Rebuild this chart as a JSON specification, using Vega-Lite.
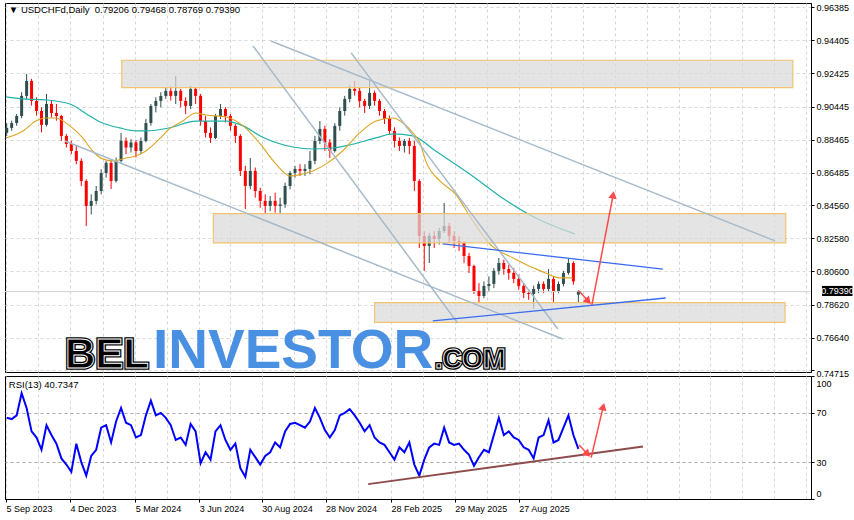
{
  "$schema": "https://vega.github.io/schema/vega-lite/v6.json",
  "padding": {"left": 2, "top": 2, "right": 0, "bottom": 0},
  "background": "white",
  "spacing": 4,
  "bounds": "flush",
  "config": {
    "font": "Liberation Sans",
    "view": {"stroke": "#000000", "strokeWidth": 1},
    "axis": {"labelFont": "Liberation Sans", "labelFontSize": 9, "labelColor": "#000000", "domainColor": "#000000", "tickColor": "#000000", "labelOverlap": false}
  },
  "datasets": {
    "c": [
      {"date":"2023-09-06","open":0.8887,"high":0.8946,"low":0.8869,"close":0.8917,"rsi":66},
      {"date":"2023-09-13","open":0.8917,"high":0.8960,"low":0.8900,"close":0.8946,"rsi":65},
      {"date":"2023-09-20","open":0.8946,"high":0.9000,"low":0.8930,"close":0.8988,"rsi":68},
      {"date":"2023-09-27","open":0.8988,"high":0.9130,"low":0.8975,"close":0.9108,"rsi":86},
      {"date":"2023-10-04","open":0.9108,"high":0.9239,"low":0.9090,"close":0.9197,"rsi":74},
      {"date":"2023-10-11","open":0.9197,"high":0.9210,"low":0.9050,"close":0.9078,"rsi":55},
      {"date":"2023-10-18","open":0.9078,"high":0.9100,"low":0.8990,"close":0.9018,"rsi":50},
      {"date":"2023-10-25","open":0.9018,"high":0.9040,"low":0.8890,"close":0.8935,"rsi":40},
      {"date":"2023-11-01","open":0.8935,"high":0.9120,"low":0.8925,"close":0.9060,"rsi":60},
      {"date":"2023-11-08","open":0.9060,"high":0.9080,"low":0.8980,"close":0.9006,"rsi":52},
      {"date":"2023-11-15","open":0.9006,"high":0.9060,"low":0.8960,"close":0.8988,"rsi":45},
      {"date":"2023-11-22","open":0.8988,"high":0.8995,"low":0.8840,"close":0.8869,"rsi":33},
      {"date":"2023-11-29","open":0.8869,"high":0.8880,"low":0.8800,"close":0.8821,"rsi":28},
      {"date":"2023-12-06","open":0.8821,"high":0.8840,"low":0.8760,"close":0.8779,"rsi":22},
      {"date":"2023-12-13","open":0.8779,"high":0.8809,"low":0.8700,"close":0.8720,"rsi":45},
      {"date":"2023-12-20","open":0.8720,"high":0.8735,"low":0.8570,"close":0.8600,"rsi":30},
      {"date":"2023-12-27","open":0.8600,"high":0.8610,"low":0.8331,"close":0.8451,"rsi":19},
      {"date":"2024-01-03","open":0.8451,"high":0.8520,"low":0.8400,"close":0.8481,"rsi":35},
      {"date":"2024-01-10","open":0.8481,"high":0.8570,"low":0.8460,"close":0.8540,"rsi":40},
      {"date":"2024-01-17","open":0.8540,"high":0.8670,"low":0.8520,"close":0.8648,"rsi":58},
      {"date":"2024-01-24","open":0.8648,"high":0.8720,"low":0.8620,"close":0.8708,"rsi":60},
      {"date":"2024-01-31","open":0.8708,"high":0.8720,"low":0.8552,"close":0.8600,"rsi":46},
      {"date":"2024-02-07","open":0.8600,"high":0.8740,"low":0.8590,"close":0.8720,"rsi":63},
      {"date":"2024-02-14","open":0.8720,"high":0.8887,"low":0.8710,"close":0.8840,"rsi":74},
      {"date":"2024-02-21","open":0.8840,"high":0.8860,"low":0.8760,"close":0.8800,"rsi":62},
      {"date":"2024-02-28","open":0.8800,"high":0.8850,"low":0.8770,"close":0.8830,"rsi":60},
      {"date":"2024-03-06","open":0.8830,"high":0.8845,"low":0.8740,"close":0.8779,"rsi":50},
      {"date":"2024-03-13","open":0.8779,"high":0.8860,"low":0.8760,"close":0.8839,"rsi":52},
      {"date":"2024-03-20","open":0.8839,"high":0.8970,"low":0.8830,"close":0.8946,"rsi":68},
      {"date":"2024-03-27","open":0.8946,"high":0.9060,"low":0.8930,"close":0.9048,"rsi":80},
      {"date":"2024-04-03","open":0.9048,"high":0.9100,"low":0.9010,"close":0.9078,"rsi":68},
      {"date":"2024-04-10","open":0.9078,"high":0.9130,"low":0.9040,"close":0.9108,"rsi":70},
      {"date":"2024-04-17","open":0.9108,"high":0.9160,"low":0.9090,"close":0.9138,"rsi":66},
      {"date":"2024-04-24","open":0.9138,"high":0.9165,"low":0.9080,"close":0.9108,"rsi":60},
      {"date":"2024-05-01","open":0.9108,"high":0.9227,"low":0.9060,"close":0.9138,"rsi":48},
      {"date":"2024-05-08","open":0.9138,"high":0.9150,"low":0.9040,"close":0.9078,"rsi":50},
      {"date":"2024-05-15","open":0.9078,"high":0.9100,"low":0.9000,"close":0.9048,"rsi":44},
      {"date":"2024-05-22","open":0.9048,"high":0.9168,"low":0.9030,"close":0.9150,"rsi":61},
      {"date":"2024-05-29","open":0.9150,"high":0.9160,"low":0.9060,"close":0.9108,"rsi":55},
      {"date":"2024-06-05","open":0.9108,"high":0.9120,"low":0.8930,"close":0.8958,"rsi":29},
      {"date":"2024-06-12","open":0.8958,"high":0.8990,"low":0.8860,"close":0.8887,"rsi":38},
      {"date":"2024-06-19","open":0.8887,"high":0.8920,"low":0.8827,"close":0.8857,"rsi":32},
      {"date":"2024-06-26","open":0.8857,"high":0.9000,"low":0.8850,"close":0.8988,"rsi":55},
      {"date":"2024-07-03","open":0.8988,"high":0.9060,"low":0.8970,"close":0.9030,"rsi":60},
      {"date":"2024-07-10","open":0.9030,"high":0.9040,"low":0.8950,"close":0.8988,"rsi":48},
      {"date":"2024-07-17","open":0.8988,"high":0.9000,"low":0.8900,"close":0.8929,"rsi":40},
      {"date":"2024-07-24","open":0.8929,"high":0.8940,"low":0.8827,"close":0.8869,"rsi":45},
      {"date":"2024-07-31","open":0.8869,"high":0.8880,"low":0.8630,"close":0.8660,"rsi":25},
      {"date":"2024-08-07","open":0.8660,"high":0.8690,"low":0.8433,"close":0.8570,"rsi":18},
      {"date":"2024-08-14","open":0.8570,"high":0.8737,"low":0.8550,"close":0.8660,"rsi":40},
      {"date":"2024-08-21","open":0.8660,"high":0.8680,"low":0.8500,"close":0.8540,"rsi":34},
      {"date":"2024-08-28","open":0.8540,"high":0.8560,"low":0.8440,"close":0.8481,"rsi":28},
      {"date":"2024-09-04","open":0.8481,"high":0.8520,"low":0.8403,"close":0.8451,"rsi":35},
      {"date":"2024-09-11","open":0.8451,"high":0.8510,"low":0.8420,"close":0.8481,"rsi":38},
      {"date":"2024-09-18","open":0.8481,"high":0.8530,"low":0.8410,"close":0.8451,"rsi":46},
      {"date":"2024-09-25","open":0.8451,"high":0.8500,"low":0.8403,"close":0.8460,"rsi":42},
      {"date":"2024-10-02","open":0.8460,"high":0.8590,"low":0.8440,"close":0.8570,"rsi":55},
      {"date":"2024-10-09","open":0.8570,"high":0.8660,"low":0.8550,"close":0.8648,"rsi":61},
      {"date":"2024-10-16","open":0.8648,"high":0.8690,"low":0.8620,"close":0.8672,"rsi":62},
      {"date":"2024-10-23","open":0.8672,"high":0.8700,"low":0.8630,"close":0.8660,"rsi":60},
      {"date":"2024-10-30","open":0.8660,"high":0.8700,"low":0.8630,"close":0.8672,"rsi":58},
      {"date":"2024-11-06","open":0.8672,"high":0.8779,"low":0.8640,"close":0.8720,"rsi":63},
      {"date":"2024-11-13","open":0.8720,"high":0.8869,"low":0.8700,"close":0.8839,"rsi":74},
      {"date":"2024-11-20","open":0.8839,"high":0.8958,"low":0.8820,"close":0.8911,"rsi":66},
      {"date":"2024-11-27","open":0.8911,"high":0.8930,"low":0.8780,"close":0.8830,"rsi":56},
      {"date":"2024-12-04","open":0.8830,"high":0.8850,"low":0.8737,"close":0.8779,"rsi":50},
      {"date":"2024-12-11","open":0.8779,"high":0.8945,"low":0.8770,"close":0.8929,"rsi":56},
      {"date":"2024-12-18","open":0.8929,"high":0.9040,"low":0.8900,"close":0.9018,"rsi":68},
      {"date":"2024-12-25","open":0.9018,"high":0.9108,"low":0.8990,"close":0.9090,"rsi":70},
      {"date":"2025-01-01","open":0.9090,"high":0.9170,"low":0.9070,"close":0.9150,"rsi":73},
      {"date":"2025-01-08","open":0.9150,"high":0.9197,"low":0.9110,"close":0.9138,"rsi":68},
      {"date":"2025-01-15","open":0.9138,"high":0.9160,"low":0.9040,"close":0.9078,"rsi":62},
      {"date":"2025-01-22","open":0.9078,"high":0.9090,"low":0.9006,"close":0.9048,"rsi":55},
      {"date":"2025-01-29","open":0.9048,"high":0.9197,"low":0.9030,"close":0.9126,"rsi":60},
      {"date":"2025-02-05","open":0.9126,"high":0.9140,"low":0.9050,"close":0.9078,"rsi":50},
      {"date":"2025-02-12","open":0.9078,"high":0.9090,"low":0.8990,"close":0.9018,"rsi":46},
      {"date":"2025-02-19","open":0.9018,"high":0.9030,"low":0.8940,"close":0.8970,"rsi":44},
      {"date":"2025-02-26","open":0.8970,"high":0.8990,"low":0.8880,"close":0.8899,"rsi":38},
      {"date":"2025-03-05","open":0.8899,"high":0.8920,"low":0.8800,"close":0.8839,"rsi":32},
      {"date":"2025-03-12","open":0.8839,"high":0.8860,"low":0.8779,"close":0.8809,"rsi":42},
      {"date":"2025-03-19","open":0.8809,"high":0.8850,"low":0.8770,"close":0.8839,"rsi":38},
      {"date":"2025-03-26","open":0.8839,"high":0.8857,"low":0.8760,"close":0.8809,"rsi":46},
      {"date":"2025-04-02","open":0.8809,"high":0.8840,"low":0.8540,"close":0.8600,"rsi":28},
      {"date":"2025-04-09","open":0.8600,"high":0.8610,"low":0.8200,"close":0.8272,"rsi":19},
      {"date":"2025-04-16","open":0.8272,"high":0.8300,"low":0.8063,"close":0.8212,"rsi":32},
      {"date":"2025-04-23","open":0.8212,"high":0.8290,"low":0.8110,"close":0.8272,"rsi":42},
      {"date":"2025-04-30","open":0.8272,"high":0.8300,"low":0.8200,"close":0.8254,"rsi":45},
      {"date":"2025-05-07","open":0.8254,"high":0.8320,"low":0.8220,"close":0.8301,"rsi":44},
      {"date":"2025-05-14","open":0.8301,"high":0.8469,"low":0.8290,"close":0.8331,"rsi":58},
      {"date":"2025-05-21","open":0.8331,"high":0.8350,"low":0.8230,"close":0.8272,"rsi":46},
      {"date":"2025-05-28","open":0.8272,"high":0.8300,"low":0.8200,"close":0.8242,"rsi":44},
      {"date":"2025-06-04","open":0.8242,"high":0.8270,"low":0.8182,"close":0.8230,"rsi":45},
      {"date":"2025-06-11","open":0.8230,"high":0.8240,"low":0.8110,"close":0.8152,"rsi":40},
      {"date":"2025-06-18","open":0.8152,"high":0.8170,"low":0.8050,"close":0.8092,"rsi":36},
      {"date":"2025-06-25","open":0.8092,"high":0.8100,"low":0.7925,"close":0.7943,"rsi":27},
      {"date":"2025-07-02","open":0.7943,"high":0.7990,"low":0.7871,"close":0.7913,"rsi":34},
      {"date":"2025-07-09","open":0.7913,"high":0.8000,"low":0.7900,"close":0.7973,"rsi":40},
      {"date":"2025-07-16","open":0.7973,"high":0.8030,"low":0.7940,"close":0.7985,"rsi":38},
      {"date":"2025-07-23","open":0.7985,"high":0.8080,"low":0.7960,"close":0.8063,"rsi":52},
      {"date":"2025-07-30","open":0.8063,"high":0.8140,"low":0.8040,"close":0.8110,"rsi":66},
      {"date":"2025-08-06","open":0.8110,"high":0.8130,"low":0.8040,"close":0.8074,"rsi":52},
      {"date":"2025-08-13","open":0.8074,"high":0.8100,"low":0.8010,"close":0.8051,"rsi":55},
      {"date":"2025-08-20","open":0.8051,"high":0.8080,"low":0.7990,"close":0.8015,"rsi":50},
      {"date":"2025-08-27","open":0.8015,"high":0.8040,"low":0.7950,"close":0.7973,"rsi":48},
      {"date":"2025-09-03","open":0.7973,"high":0.7990,"low":0.7900,"close":0.7931,"rsi":42},
      {"date":"2025-09-10","open":0.7931,"high":0.7950,"low":0.7890,"close":0.7925,"rsi":40},
      {"date":"2025-09-17","open":0.7925,"high":0.7975,"low":0.7836,"close":0.7955,"rsi":33},
      {"date":"2025-09-24","open":0.7955,"high":0.8000,"low":0.7930,"close":0.7985,"rsi":50},
      {"date":"2025-10-01","open":0.7985,"high":0.8000,"low":0.7930,"close":0.7955,"rsi":52},
      {"date":"2025-10-08","open":0.7955,"high":0.8074,"low":0.7940,"close":0.8015,"rsi":64},
      {"date":"2025-10-15","open":0.8015,"high":0.8030,"low":0.7870,"close":0.7943,"rsi":46},
      {"date":"2025-10-22","open":0.7943,"high":0.8000,"low":0.7930,"close":0.7985,"rsi":48},
      {"date":"2025-10-29","open":0.7985,"high":0.8063,"low":0.7970,"close":0.8051,"rsi":58},
      {"date":"2025-11-05","open":0.8051,"high":0.8134,"low":0.8040,"close":0.8110,"rsi":68},
      {"date":"2025-11-12","open":0.8110,"high":0.8120,"low":0.7980,"close":0.8000,"rsi":52},
      {"date":"2025-11-19","open":0.7921,"high":0.7947,"low":0.7877,"close":0.7939,"rsi":40.73}
    ],
    "ma1": [
      {"date":"2023-09-05","price":0.9102},{"date":"2023-09-29","price":0.9090},{"date":"2023-10-31","price":0.9084},
      {"date":"2023-12-04","price":0.9060},{"date":"2024-01-01","price":0.8988},{"date":"2024-01-19","price":0.8946},
      {"date":"2024-02-12","price":0.8917},{"date":"2024-03-06","price":0.8899},{"date":"2024-03-20","price":0.8899},
      {"date":"2024-04-22","price":0.8917},{"date":"2024-05-29","price":0.8958},{"date":"2024-07-11","price":0.8958},
      {"date":"2024-08-04","price":0.8929},{"date":"2024-08-28","price":0.8869},{"date":"2024-10-13","price":0.8803},
      {"date":"2024-11-10","price":0.8791},{"date":"2024-12-08","price":0.8797},{"date":"2025-01-01","price":0.8815},
      {"date":"2025-02-07","price":0.8857},{"date":"2025-03-03","price":0.8881},{"date":"2025-03-31","price":0.8869},
      {"date":"2025-05-02","price":0.8779},{"date":"2025-06-19","price":0.8642},{"date":"2025-08-04","price":0.8498},
      {"date":"2025-09-20","price":0.8379},{"date":"2025-11-14","price":0.8284}
    ],
    "ma2": [
      {"date":"2023-09-05","price":0.8857},{"date":"2023-09-29","price":0.8899},{"date":"2023-10-17","price":0.8958},
      {"date":"2023-10-31","price":0.8976},{"date":"2023-11-14","price":0.8976},{"date":"2023-12-04","price":0.8929},
      {"date":"2023-12-22","price":0.8857},{"date":"2024-01-05","price":0.8779},{"date":"2024-01-19","price":0.8732},
      {"date":"2024-02-02","price":0.8720},{"date":"2024-02-21","price":0.8737},{"date":"2024-03-06","price":0.8749},
      {"date":"2024-03-20","price":0.8779},{"date":"2024-04-08","price":0.8851},{"date":"2024-04-22","price":0.8911},
      {"date":"2024-05-11","price":0.8958},{"date":"2024-05-29","price":0.9006},{"date":"2024-06-12","price":0.8994},
      {"date":"2024-07-11","price":0.8982},{"date":"2024-08-04","price":0.8929},{"date":"2024-08-28","price":0.8821},
      {"date":"2024-09-19","price":0.8702},{"date":"2024-10-09","price":0.8630},{"date":"2024-10-27","price":0.8642},
      {"date":"2024-11-10","price":0.8660},{"date":"2024-11-29","price":0.8702},{"date":"2024-12-22","price":0.8779},
      {"date":"2025-01-15","price":0.8887},{"date":"2025-02-07","price":0.8958},{"date":"2025-03-03","price":0.8976},
      {"date":"2025-03-17","price":0.8946},{"date":"2025-03-31","price":0.8887},{"date":"2025-04-10","price":0.8827},
      {"date":"2025-04-18","price":0.8720},{"date":"2025-05-08","price":0.8600},{"date":"2025-05-30","price":0.8522},
      {"date":"2025-06-19","price":0.8391},{"date":"2025-07-17","price":0.8224},{"date":"2025-08-19","price":0.8140},
      {"date":"2025-09-30","price":0.8057},{"date":"2025-10-24","price":0.8021},{"date":"2025-11-11","price":0.8021}
    ],
    "boxes": [
      {"date":"2024-02-15","date2":"2026-09-17","price":0.9157,"price2":0.9321},
      {"date":"2024-06-23","date2":"2026-09-07","price":0.8230,"price2":0.8405},
      {"date":"2025-02-05","date2":"2026-09-06","price":0.7755,"price2":0.7873}
    ],
    "glines": [
      {"date":"2024-09-12","date2":"2026-08-23","price":0.9436,"price2":0.8242},
      {"date":"2025-01-03","date2":"2025-10-21","price":0.9365,"price2":0.7716},
      {"date":"2024-08-18","date2":"2025-06-02","price":0.9406,"price2":0.7752},
      {"date":"2023-11-27","date2":"2025-10-28","price":0.8839,"price2":0.7656}
    ],
    "blines": [
      {"date":"2025-05-12","date2":"2026-03-18","price":0.8224,"price2":0.8074},
      {"date":"2025-04-28","date2":"2026-03-22","price":0.7764,"price2":0.7901}
    ],
    "parr": [
      {"date":"2025-11-20","date2":"2025-12-03","price":0.7943,"price2":0.7882},
      {"date":"2025-12-08","date2":"2026-01-07","price":0.7859,"price2":0.8517}
    ],
    "pheads": [
      {"date":"2025-12-03","price":0.7882,"angle":137},
      {"date":"2026-01-07","price":0.8517,"angle":10}
    ],
    "last": [{"price":0.7939}],
    "tag": [{"date":"2026-10-28","date2":"2026-12-10","mid":"2026-11-19","top":0.7973,"bottom":0.7913,"price":0.7943,"label":"0.79390"}],
    "hdr": [{"date":"2023-09-09","price":0.9604,"text":"▼ USDCHFd,Daily\u00a0\u00a00.79206 0.79468 0.78769 0.79390"}],
    "rhdr": [{"date":"2023-09-09","rsi":90.2,"text":"RSI(13) 40.7347"}],
    "logo": [
      {"date":"2023-11-27","price":0.7483,"text":"BEL"},
      {"date":"2024-03-30","price":0.7483,"text":"INVESTOR"},
      {"date":"2025-05-01","price":0.7483,"text":".COM"}
    ],
    "rline": [{"date":"2025-01-27","date2":"2026-02-18","rsi":12.1,"rsi2":42.7}],
    "rarr": [
      {"date":"2025-11-20","date2":"2025-12-02","rsi":43.9,"rsi2":36.5},
      {"date":"2025-12-07","date2":"2025-12-24","rsi":33.6,"rsi2":75.1}
    ],
    "rheads": [
      {"date":"2025-12-02","rsi":36.5,"angle":135},
      {"date":"2025-12-24","rsi":75.1,"angle":14}
    ]
  },
  "vconcat": [
    {
      "width": 806,
      "height": 369,
      "layer": [
        {
          "data": {"name": "c"},
          "mark": {"type": "rule", "strokeWidth": 1},
          "encoding": {
            "x": {"field": "date", "type": "temporal", "title": null,
              "scale": {"type": "utc", "domain": [{"year": 2023, "month": 9, "date": 3, "hours": 14, "utc": true}, {"year": 2026, "month": 10, "date": 12, "hours": 14, "utc": true}]},
              "axis": {"title": null, "labels": false, "ticks": false, "domain": false, "grid": true, "gridColor": "#d6d6d6", "gridDash": [3, 3], "tickCount": 60,
                "values": [
                  {"year":2023,"month":9,"date":5,"utc":true},{"year":2023,"month":10,"date":20,"utc":true},{"year":2023,"month":12,"date":4,"utc":true},
                  {"year":2024,"month":1,"date":19,"utc":true},{"year":2024,"month":3,"date":5,"utc":true},{"year":2024,"month":4,"date":19,"utc":true},
                  {"year":2024,"month":6,"date":3,"utc":true},{"year":2024,"month":7,"date":17,"utc":true},{"year":2024,"month":8,"date":30,"utc":true},
                  {"year":2024,"month":10,"date":14,"utc":true},{"year":2024,"month":11,"date":28,"utc":true},{"year":2025,"month":1,"date":13,"utc":true},
                  {"year":2025,"month":2,"date":28,"utc":true},{"year":2025,"month":4,"date":14,"utc":true},{"year":2025,"month":5,"date":29,"utc":true},
                  {"year":2025,"month":7,"date":13,"utc":true},{"year":2025,"month":8,"date":27,"utc":true},{"year":2025,"month":10,"date":11,"utc":true},
                  {"year":2025,"month":11,"date":25,"utc":true},{"year":2026,"month":1,"date":9,"utc":true},{"year":2026,"month":2,"date":23,"utc":true},
                  {"year":2026,"month":4,"date":9,"utc":true},{"year":2026,"month":5,"date":24,"utc":true},{"year":2026,"month":7,"date":8,"utc":true},
                  {"year":2026,"month":8,"date":22,"utc":true},{"year":2026,"month":10,"date":6,"utc":true}
                ]}},
            "y": {"field": "low", "type": "quantitative", "title": null, "scale": {"domain": [0.7459, 0.9663], "zero": false, "nice": false},
              "axis": {"orient": "right", "title": null, "tickCount": 40, "values": [0.96385, 0.94405, 0.92425, 0.90445, 0.88465, 0.86485, 0.84560, 0.82580, 0.80600, 0.78620, 0.76640, 0.74715], "format": ".5f", "grid": true, "gridColor": "#d6d6d6", "gridDash": [3, 3], "tickSize": 3, "labelPadding": 2, "labelOverlap": false, "labelBound": false, "labelFlush": false, "labelOffset": {"condition": {"test": "datum.value < 0.75", "value": 4}, "value": 0}}},
            "y2": {"field": "high"},
            "color": {"condition": {"test": "datum.close >= datum.open", "value": "#2f4f4f"}, "value": "#ff0000"}
          }
        },
        {
          "data": {"name": "last"},
          "mark": {"type": "rule", "color": "#cfcfcf", "strokeWidth": 1},
          "encoding": {
            "y": {"field": "price", "type": "quantitative", "title": null, "scale": {"domain": [0.7459, 0.9663], "zero": false, "nice": false}}
          }
        },
        {
          "data": {"name": "c"},
          "mark": {"type": "rule", "strokeWidth": 3},
          "encoding": {
            "x": {"field": "date", "type": "temporal", "title": null, "scale": {"type": "utc", "domain": [{"year": 2023, "month": 9, "date": 3, "hours": 14, "utc": true}, {"year": 2026, "month": 10, "date": 12, "hours": 14, "utc": true}]}},
            "y": {"field": "open", "type": "quantitative", "title": null, "scale": {"domain": [0.7459, 0.9663], "zero": false, "nice": false}},
            "y2": {"field": "close"},
            "color": {"condition": {"test": "datum.close >= datum.open", "value": "#2f4f4f"}, "value": "#ff0000"}
          }
        },
        {
          "data": {"name": "ma1"},
          "mark": {"type": "line", "color": "#20b2aa", "strokeWidth": 1.2, "interpolate": "monotone"},
          "encoding": {
            "x": {"field": "date", "type": "temporal", "title": null, "scale": {"type": "utc", "domain": [{"year": 2023, "month": 9, "date": 3, "hours": 14, "utc": true}, {"year": 2026, "month": 10, "date": 12, "hours": 14, "utc": true}]}},
            "y": {"field": "price", "type": "quantitative", "title": null, "scale": {"domain": [0.7459, 0.9663], "zero": false, "nice": false}}
          }
        },
        {
          "data": {"name": "ma2"},
          "mark": {"type": "line", "color": "#daa520", "strokeWidth": 1.1, "interpolate": "monotone"},
          "encoding": {
            "x": {"field": "date", "type": "temporal", "title": null, "scale": {"type": "utc", "domain": [{"year": 2023, "month": 9, "date": 3, "hours": 14, "utc": true}, {"year": 2026, "month": 10, "date": 12, "hours": 14, "utc": true}]}},
            "y": {"field": "price", "type": "quantitative", "title": null, "scale": {"domain": [0.7459, 0.9663], "zero": false, "nice": false}}
          }
        },
        {
          "data": {"name": "boxes"},
          "mark": {"type": "rect", "fill": "#d9d9d9", "fillOpacity": 0.72, "stroke": "#f2c46d", "strokeWidth": 1.2},
          "encoding": {
            "x": {"field": "date", "type": "temporal", "title": null, "scale": {"type": "utc", "domain": [{"year": 2023, "month": 9, "date": 3, "hours": 14, "utc": true}, {"year": 2026, "month": 10, "date": 12, "hours": 14, "utc": true}]}},
            "x2": {"field": "date2"},
            "y": {"field": "price", "type": "quantitative", "title": null, "scale": {"domain": [0.7459, 0.9663], "zero": false, "nice": false}},
            "y2": {"field": "price2"}
          }
        },
        {
          "data": {"name": "glines"},
          "mark": {"type": "rule", "color": "#a7bac9", "strokeWidth": 1.5},
          "encoding": {
            "x": {"field": "date", "type": "temporal", "title": null, "scale": {"type": "utc", "domain": [{"year": 2023, "month": 9, "date": 3, "hours": 14, "utc": true}, {"year": 2026, "month": 10, "date": 12, "hours": 14, "utc": true}]}},
            "x2": {"field": "date2"},
            "y": {"field": "price", "type": "quantitative", "title": null, "scale": {"domain": [0.7459, 0.9663], "zero": false, "nice": false}},
            "y2": {"field": "price2"}
          }
        },
        {
          "data": {"name": "blines"},
          "mark": {"type": "rule", "color": "#3b6cf0", "strokeWidth": 1.3},
          "encoding": {
            "x": {"field": "date", "type": "temporal", "title": null, "scale": {"type": "utc", "domain": [{"year": 2023, "month": 9, "date": 3, "hours": 14, "utc": true}, {"year": 2026, "month": 10, "date": 12, "hours": 14, "utc": true}]}},
            "x2": {"field": "date2"},
            "y": {"field": "price", "type": "quantitative", "title": null, "scale": {"domain": [0.7459, 0.9663], "zero": false, "nice": false}},
            "y2": {"field": "price2"}
          }
        },
        {
          "data": {"name": "parr"},
          "mark": {"type": "rule", "color": "#ff4a4a", "strokeWidth": 1.5},
          "encoding": {
            "x": {"field": "date", "type": "temporal", "title": null, "scale": {"type": "utc", "domain": [{"year": 2023, "month": 9, "date": 3, "hours": 14, "utc": true}, {"year": 2026, "month": 10, "date": 12, "hours": 14, "utc": true}]}},
            "x2": {"field": "date2"},
            "y": {"field": "price", "type": "quantitative", "title": null, "scale": {"domain": [0.7459, 0.9663], "zero": false, "nice": false}},
            "y2": {"field": "price2"}
          }
        },
        {
          "data": {"name": "pheads"},
          "mark": {"type": "point", "shape": "triangle-up", "filled": true, "color": "#ff4a4a", "size": 75, "opacity": 1},
          "encoding": {
            "x": {"field": "date", "type": "temporal", "title": null, "scale": {"type": "utc", "domain": [{"year": 2023, "month": 9, "date": 3, "hours": 14, "utc": true}, {"year": 2026, "month": 10, "date": 12, "hours": 14, "utc": true}]}},
            "y": {"field": "price", "type": "quantitative", "title": null, "scale": {"domain": [0.7459, 0.9663], "zero": false, "nice": false}},
            "angle": {"field": "angle", "type": "quantitative", "scale": null}
          }
        },
        {
          "data": {"name": "logo"},
          "transform": [{"filter": "datum.text == 'BEL' || datum.text == '.COM'"}],
          "mark": {"type": "text", "font": "Liberation Sans", "fontWeight": "bold", "align": "left", "baseline": "alphabetic", "fill": "#000000", "stroke": "#000000", "strokeWidth": 3.5},
          "encoding": {
            "x": {"field": "date", "type": "temporal", "title": null, "scale": {"type": "utc", "domain": [{"year": 2023, "month": 9, "date": 3, "hours": 14, "utc": true}, {"year": 2026, "month": 10, "date": 12, "hours": 14, "utc": true}]}},
            "y": {"field": "price", "type": "quantitative", "title": null, "scale": {"domain": [0.7459, 0.9663], "zero": false, "nice": false}},
            "text": {"field": "text"},
            "size": {"condition": {"test": "datum.text == '.COM'", "value": 27}, "value": 42}
          }
        },
        {
          "data": {"name": "logo"},
          "transform": [{"filter": "datum.text == 'BEL' || datum.text == '.COM'"}],
          "mark": {"type": "text", "font": "Liberation Sans", "fontWeight": "bold", "align": "left", "baseline": "alphabetic", "fill": "#000000", "stroke": "#ffffff", "strokeWidth": 0.9},
          "encoding": {
            "x": {"field": "date", "type": "temporal", "title": null, "scale": {"type": "utc", "domain": [{"year": 2023, "month": 9, "date": 3, "hours": 14, "utc": true}, {"year": 2026, "month": 10, "date": 12, "hours": 14, "utc": true}]}},
            "y": {"field": "price", "type": "quantitative", "title": null, "scale": {"domain": [0.7459, 0.9663], "zero": false, "nice": false}},
            "text": {"field": "text"},
            "size": {"condition": {"test": "datum.text == '.COM'", "value": 27}, "value": 42}
          }
        },
        {
          "data": {"name": "logo"},
          "transform": [{"filter": "datum.text == 'INVESTOR'"}],
          "mark": {"type": "text", "font": "Liberation Sans", "fontWeight": "bold", "align": "left", "baseline": "alphabetic", "fill": "#4a90e2", "fontSize": 55},
          "encoding": {
            "x": {"field": "date", "type": "temporal", "title": null, "scale": {"type": "utc", "domain": [{"year": 2023, "month": 9, "date": 3, "hours": 14, "utc": true}, {"year": 2026, "month": 10, "date": 12, "hours": 14, "utc": true}]}},
            "y": {"field": "price", "type": "quantitative", "title": null, "scale": {"domain": [0.7459, 0.9663], "zero": false, "nice": false}},
            "text": {"field": "text"}
          }
        },
        {
          "data": {"name": "hdr"},
          "mark": {"type": "text", "font": "Liberation Sans", "fontSize": 9.5, "align": "left", "baseline": "alphabetic", "color": "#000000"},
          "encoding": {
            "x": {"field": "date", "type": "temporal", "title": null, "scale": {"type": "utc", "domain": [{"year": 2023, "month": 9, "date": 3, "hours": 14, "utc": true}, {"year": 2026, "month": 10, "date": 12, "hours": 14, "utc": true}]}},
            "y": {"field": "price", "type": "quantitative", "title": null, "scale": {"domain": [0.7459, 0.9663], "zero": false, "nice": false}},
            "text": {"field": "text"}
          }
        },
        {
          "data": {"name": "tag"},
          "mark": {"type": "rect", "fill": "#000000"},
          "encoding": {
            "x": {"field": "date", "type": "temporal", "title": null, "scale": {"type": "utc", "domain": [{"year": 2023, "month": 9, "date": 3, "hours": 14, "utc": true}, {"year": 2026, "month": 10, "date": 12, "hours": 14, "utc": true}]}},
            "x2": {"field": "date2"},
            "y": {"field": "top", "type": "quantitative", "title": null, "scale": {"domain": [0.7459, 0.9663], "zero": false, "nice": false}},
            "y2": {"field": "bottom"}
          }
        },
        {
          "data": {"name": "tag"},
          "mark": {"type": "text", "color": "#ffffff", "fontSize": 9, "font": "Liberation Sans", "align": "center", "baseline": "middle"},
          "encoding": {
            "x": {"field": "mid", "type": "temporal", "title": null, "scale": {"type": "utc", "domain": [{"year": 2023, "month": 9, "date": 3, "hours": 14, "utc": true}, {"year": 2026, "month": 10, "date": 12, "hours": 14, "utc": true}]}},
            "y": {"field": "price", "type": "quantitative", "title": null, "scale": {"domain": [0.7459, 0.9663], "zero": false, "nice": false}},
            "text": {"field": "label"}
          }
        }
      ]
    },
    {
      "width": 806,
      "height": 123,
      "layer": [
        {
          "data": {"name": "c"},
          "mark": {"type": "line", "color": "#0000ff", "strokeWidth": 2},
          "encoding": {
            "x": {"field": "date", "type": "temporal", "title": null,
              "scale": {"type": "utc", "domain": [{"year": 2023, "month": 9, "date": 3, "hours": 14, "utc": true}, {"year": 2026, "month": 10, "date": 12, "hours": 14, "utc": true}]},
              "axis": {"title": null, "orient": "bottom", "domain": true, "grid": true, "gridColor": "#d6d6d6", "gridDash": [3, 3], "tickSize": 3, "tickCount": 60, "labelAlign": "left", "labelPadding": 2, "labelOverlap": false, "labelBound": false, "labelFlush": false,
                "tickOpacity": {"condition": {"test": "indexof(['2023-09-05','2023-12-04','2024-03-05','2024-06-03','2024-08-30','2024-11-28','2025-02-28','2025-05-29','2025-08-27'], utcFormat(datum.value, '%Y-%m-%d')) >= 0", "value": 1}, "value": 0},
                "labelExpr": "indexof(['2023-09-05','2023-12-04','2024-03-05','2024-06-03','2024-08-30','2024-11-28','2025-02-28','2025-05-29','2025-08-27'], utcFormat(datum.value, '%Y-%m-%d')) >= 0 ? utcFormat(datum.value, '%-d %b %Y') : ''",
                "values": [
                  {"year":2023,"month":9,"date":5,"utc":true},{"year":2023,"month":10,"date":20,"utc":true},{"year":2023,"month":12,"date":4,"utc":true},
                  {"year":2024,"month":1,"date":19,"utc":true},{"year":2024,"month":3,"date":5,"utc":true},{"year":2024,"month":4,"date":19,"utc":true},
                  {"year":2024,"month":6,"date":3,"utc":true},{"year":2024,"month":7,"date":17,"utc":true},{"year":2024,"month":8,"date":30,"utc":true},
                  {"year":2024,"month":10,"date":14,"utc":true},{"year":2024,"month":11,"date":28,"utc":true},{"year":2025,"month":1,"date":13,"utc":true},
                  {"year":2025,"month":2,"date":28,"utc":true},{"year":2025,"month":4,"date":14,"utc":true},{"year":2025,"month":5,"date":29,"utc":true},
                  {"year":2025,"month":7,"date":13,"utc":true},{"year":2025,"month":8,"date":27,"utc":true},{"year":2025,"month":10,"date":11,"utc":true},
                  {"year":2025,"month":11,"date":25,"utc":true},{"year":2026,"month":1,"date":9,"utc":true},{"year":2026,"month":2,"date":23,"utc":true},
                  {"year":2026,"month":4,"date":9,"utc":true},{"year":2026,"month":5,"date":24,"utc":true},{"year":2026,"month":7,"date":8,"utc":true},
                  {"year":2026,"month":8,"date":22,"utc":true},{"year":2026,"month":10,"date":6,"utc":true}
                ]}},
            "y": {"field": "rsi", "type": "quantitative", "title": null, "scale": {"domain": [0, 100], "nice": false},
              "axis": {"title": null, "orient": "right", "values": [0, 30, 70, 100], "grid": true, "gridColor": "#a9a9a9", "gridDash": [3, 3], "labelOverlap": false,
                "gridOpacity": {"condition": {"test": "datum.value == 30 || datum.value == 70", "value": 1}, "value": 0},
                "tickSize": 3, "labelPadding": 2,
                "labelOffset": {"condition": [{"test": "datum.value == 100", "value": 7}, {"test": "datum.value == 0", "value": -6}], "value": 0}}}
          }
        },
        {
          "data": {"name": "rline"},
          "mark": {"type": "rule", "color": "#8e4b4b", "strokeWidth": 2},
          "encoding": {
            "x": {"field": "date", "type": "temporal", "title": null, "scale": {"type": "utc", "domain": [{"year": 2023, "month": 9, "date": 3, "hours": 14, "utc": true}, {"year": 2026, "month": 10, "date": 12, "hours": 14, "utc": true}]}},
            "x2": {"field": "date2"},
            "y": {"field": "rsi", "type": "quantitative", "title": null, "scale": {"domain": [0, 100], "nice": false}},
            "y2": {"field": "rsi2"}
          }
        },
        {
          "data": {"name": "rarr"},
          "mark": {"type": "rule", "color": "#ff4a4a", "strokeWidth": 1.5},
          "encoding": {
            "x": {"field": "date", "type": "temporal", "title": null, "scale": {"type": "utc", "domain": [{"year": 2023, "month": 9, "date": 3, "hours": 14, "utc": true}, {"year": 2026, "month": 10, "date": 12, "hours": 14, "utc": true}]}},
            "x2": {"field": "date2"},
            "y": {"field": "rsi", "type": "quantitative", "title": null, "scale": {"domain": [0, 100], "nice": false}},
            "y2": {"field": "rsi2"}
          }
        },
        {
          "data": {"name": "rheads"},
          "mark": {"type": "point", "shape": "triangle-up", "filled": true, "color": "#ff4a4a", "size": 75, "opacity": 1},
          "encoding": {
            "x": {"field": "date", "type": "temporal", "title": null, "scale": {"type": "utc", "domain": [{"year": 2023, "month": 9, "date": 3, "hours": 14, "utc": true}, {"year": 2026, "month": 10, "date": 12, "hours": 14, "utc": true}]}},
            "y": {"field": "rsi", "type": "quantitative", "title": null, "scale": {"domain": [0, 100], "nice": false}},
            "angle": {"field": "angle", "type": "quantitative", "scale": null}
          }
        },
        {
          "data": {"name": "rhdr"},
          "mark": {"type": "text", "font": "Liberation Sans", "fontSize": 9.5, "align": "left", "baseline": "alphabetic", "color": "#000000"},
          "encoding": {
            "x": {"field": "date", "type": "temporal", "title": null, "scale": {"type": "utc", "domain": [{"year": 2023, "month": 9, "date": 3, "hours": 14, "utc": true}, {"year": 2026, "month": 10, "date": 12, "hours": 14, "utc": true}]}},
            "y": {"field": "rsi", "type": "quantitative", "title": null, "scale": {"domain": [0, 100], "nice": false}},
            "text": {"field": "text"}
          }
        }
      ]
    }
  ]
}
